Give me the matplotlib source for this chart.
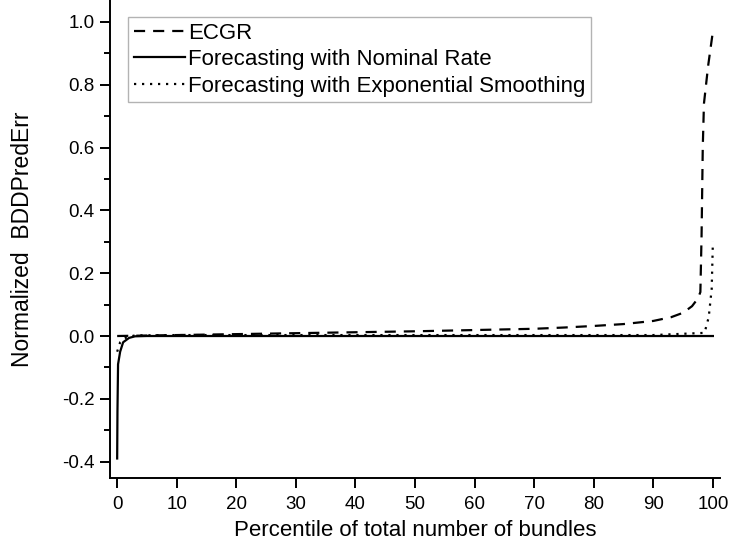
import matplotlib
matplotlib.use("Agg")
import matplotlib.pyplot as plt
from matplotlib.ticker import MultipleLocator

plt.rcParams['font.family'] = ['Liberation Sans', 'DejaVu Sans']

# ECGR curve (percentile, normalized error)
ecgr_x = [0, 10, 20, 30, 40, 50, 60, 70, 75, 80, 85, 90, 93, 95, 96.5, 97.5, 97.9, 98.1, 98.3, 98.5, 99.2, 100]
ecgr_y = [0.0, 0.003, 0.006, 0.009, 0.012, 0.015, 0.019, 0.023, 0.027, 0.032, 0.038, 0.048, 0.060, 0.074, 0.095, 0.12, 0.14, 0.32, 0.60, 0.74, 0.86, 0.97]

# Forecasting with nominal rate
nominal_x = [0, 0.05, 0.15, 0.5, 1.0, 2.0, 3.0, 5.0, 100]
nominal_y = [-0.39, -0.24, -0.09, -0.05, -0.02, -0.006, -0.001, 0.0, 0.0]

# Forecasting with exponential smoothing
expo_x = [0, 0.5, 1.5, 3.0, 10, 50, 90, 98.6, 99.3, 99.8, 100]
expo_y = [-0.05, -0.02, -0.005, 0.002, 0.003, 0.003, 0.003, 0.01, 0.06, 0.15, 0.30]

fig = plt.figure(figsize=(7.31, 5.5), dpi=100)
ax = fig.add_axes([0.1505, 0.131, 0.8345, 0.869])

lw = 1.6
ax.plot(ecgr_x, ecgr_y, color='black', lw=lw, linestyle=(0, (5.0, 3.6)), label='ECGR')
ax.plot(nominal_x, nominal_y, color='black', lw=lw, linestyle='-', label='Forecasting with Nominal Rate')
ax.plot(expo_x, expo_y, color='black', lw=lw, linestyle=(0, (1, 2.6)),
        label='Forecasting with Exponential Smoothing')

ax.set_xlim(-1.2, 101.2)
ax.set_ylim(-0.452, 1.07)

ax.spines['top'].set_visible(False)
ax.spines['right'].set_visible(False)
for s in ('left', 'bottom'):
    ax.spines[s].set_linewidth(1.4)

ax.xaxis.set_major_locator(MultipleLocator(10))
ax.yaxis.set_major_locator(MultipleLocator(0.2))
ax.yaxis.set_minor_locator(MultipleLocator(0.1))
ax.yaxis.set_major_formatter(plt.FuncFormatter(lambda v, p: f"{v:.1f}"))
ax.tick_params(axis='both', which='major', direction='out', length=7, width=1.4,
               labelsize=13.5)
ax.tick_params(axis='x', which='major', pad=6)
ax.tick_params(axis='y', which='major', pad=4)
ax.tick_params(axis='y', which='minor', direction='out', length=4.5, width=1.4)

ax.set_xlabel('Percentile of total number of bundles', fontsize=16, labelpad=5)
ax.set_ylabel('Normalized  BDDPredErr', fontsize=16.5, labelpad=20)

leg = ax.legend(loc='upper left', bbox_to_anchor=(0.0295, 0.9644), fontsize=16,
                frameon=True, fancybox=False, edgecolor='#a0a0a0',
                handlelength=2.3, handletextpad=0.15, borderpad=0.25,
                labelspacing=0.25, borderaxespad=0.0)
leg.get_frame().set_linewidth(1.0)

fig.savefig('out.png', dpi=100)
